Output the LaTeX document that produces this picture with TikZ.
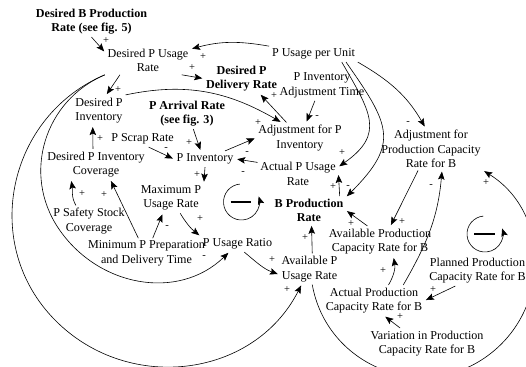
\documentclass[tikz,border=0pt]{standalone}
\usepackage{fontspec}
\setmainfont{Liberation Serif}
\usepackage{tikz}
\usetikzlibrary{arrows.meta}

\begin{document}
\begin{tikzpicture}[x=1bp,y=1bp,shorten >=1pt,line width=0.6bp,>={Stealth[length=8bp,width=6.5bp,inset=1.5bp]}]
	\def \rad{18}
	\tikzstyle{v-node}=[align=center,inner sep=2.5bp,font=\fontsize{12.1bp}{14.5bp}\selectfont]
	\tikzstyle{b-node}=[v-node,font=\fontsize{12.1bp}{14.5bp}\selectfont\bfseries]
	\tikzstyle{p-node}=[inner sep=0pt,font=\fontsize{10.5bp}{10.5bp}\selectfont]
	\tikzstyle{loop-bar}=[line width=1.7bp]
	\useasboundingbox (0,0) rectangle (526,366);

	% variables
	\node[b-node] 	(dbpr)	at (91.5,344.5)	{Desired B Production\\Rate (see fig. 5)};
	\node[v-node] 	(dpur)	at (148,305.5)	{Desired P Usage\\Rate};
	\node[v-node] 	(pupu)	at (313.5,312)	{P Usage per Unit};
	\node[b-node] 	(dpdr)	at (241.5,287.5)	{Desired P\\Delivery Rate};
	\node[v-node] 	(piat)	at (322,280.5)	{P Inventory\\Adjustment Time};
	\node[v-node] 	(dpi)	at (99,255.5)	{Desired P\\Inventory};
	\node[b-node] 	(par)	at (187,252.5)	{P Arrival Rate\\(see fig. 3)};
	\node[v-node] 	(afpi)	at (300,228)	{Adjustment for P\\Inventory};
	\node[v-node] 	(psr)	at (142.5,227)	{P Scrap Rate};
	\node[v-node] 	(dpic)	at (96,201.5)	{Desired P Inventory\\Coverage};
	\node[v-node] 	(pinv)	at (205,207)	{P Inventory};
	\node[v-node] 	(apur)	at (298,192)	{Actual P Usage\\Rate};
	\node[v-node] 	(afpcr)	at (431,217)	{Adjustment for\\Production Capacity\\Rate for B};
	\node[v-node] 	(mpur)	at (171,168)	{Maximum P\\Usage Rate};
	\node[b-node] 	(bpr)	at (309,155.5)	{B Production\\Rate};
	\node[v-node] 	(pssc)	at (89,145)	{P Safety Stock\\Coverage};
	\node[v-node] 	(mppdt)	at (146.5,112.5)	{Minimum P Preparation\\and Delivery Time};
	\node[v-node] 	(pur)	at (237.5,122)	{P Usage Ratio};
	\node[v-node] 	(apcr)	at (380,124.5)	{Available Production\\Capacity Rate for B};
	\node[v-node] 	(apur2)	at (309.5,97)	{Available P\\Usage Rate};
	\node[v-node] 	(ppcr)	at (477.5,95.5)	{Planned Production\\Capacity Rate for B};
	\node[v-node] 	(acpcr)	at (374,65.5)	{Actual Production\\Capacity Rate for B};
	\node[v-node] 	(vpcr)	at (427,22.5)	{Variation in Production\\Capacity Rate for B};

	% way points of the long arcs
	\coordinate (wpk) at (58.5,137.6);
	\coordinate (wpl) at (51.8,49.3);
	\coordinate (wpf) at (484,7.7);

	% links
	\path[->]
		(dbpr.south)	edge	(dpur.169)
		(pupu.170)	edge[out=170,in=15]	(dpur.15)
		(dpur.-23)	edge	(dpdr.west)
		(dpur.207)	edge	(dpi.65)
		(dpi.north east)	edge[out=12,in=150]	(afpi.140)
		(afpi.131)	edge	(dpdr.-40)
		(piat.245)	edge	(afpi.68)
		(pupu.-16)	edge[out=-60,in=35,looseness=1.4]	(apur.10)
		(pupu.-14)	edge[out=-55,in=45,looseness=1.45]	(bpr.20)
		(pupu.south east)	edge[out=-30,in=120]	(afpcr.105)
		%
		(dpic.101)	edge	(dpi.248)
		(pssc.130)	edge[out=120,in=-80]	(dpic.212)
		(mppdt.118)	edge	(dpic.-47)
		(mppdt.68)	edge	(mpur.242)
		(mpur.-59)	edge[bend right=10]	(pur.north west)
		(psr.-53)	edge	(pinv.west)
		(par.-68)	edge	(pinv.118)
		(pinv.22)	edge	(afpi.west)
		(apur.164)	edge	(pinv.east)
		(pinv.south)	edge	(mpur.north east)
		(bpr.25)	edge	(apur.east)
		(pur.-50)	edge[out=-40,in=160]	(apur2.190)
		(apur2.80)	edge	(bpr.-80)
		%
		(apcr.129)	edge	(bpr.east)
		(afpcr.239)	edge	(apcr.56)
		(acpcr.47)	edge[bend right=20]	(apcr.-49)
		(acpcr.28)	edge[out=60,in=-95]	(afpcr.-63)
		(ppcr.215)	edge	(acpcr.east)
		(vpcr.150)	edge	(acpcr.-56);

	% long arcs
	\draw[->] (dpur.south west) to[out=203,in=124,looseness=1.05] (wpk) to[out=304,in=224,looseness=1.05] (pur);
	\draw[->] (dpur.south west) to[out=203,in=133,looseness=1.08] (wpl) to[out=313,in=243,looseness=1.08] (apur2);
	\draw[->] (apur2) to[out=-80,in=214,looseness=1.1] (wpf) to[out=34,in=328,looseness=1.1] (afpcr.south east);

	% polarities
	\node[p-node] (pol1) at (106,325) {+};
	\node[p-node] (pol2) at (203,309) {+};
	\node[p-node] (pol3) at (192,298) {+};
	\node[p-node] (pol4) at (118,276) {+};
	\node[p-node] (pol5) at (258,243) {+};
	\node[p-node] (pol6) at (274,270) {+};
	\node[p-node] (pol7) at (317,249) {-};
	\node[p-node] (pol8) at (342,213) {+};
	\node[p-node] (pol9) at (348,179) {-};
	\node[p-node] (pol10) at (408,243) {-};
	\node[p-node] (pol11) at (204,109) {-};
	\node[p-node] (pol12) at (287,76) {+};
	\node[p-node] (pol13) at (100,227) {+};
	\node[p-node] (pol14) at (82,172) {+};
	\node[p-node] (pol15) at (104,171) {+};
	\node[p-node] (pol16) at (167,139) {-};
	\node[p-node] (pol17) at (200,147) {+};
	\node[p-node] (pol18) at (166,217) {-};
	\node[p-node] (pol19) at (189,223) {+};
	\node[p-node] (pol20) at (247,213) {-};
	\node[p-node] (pol21) at (243,193) {-};
	\node[p-node] (pol22) at (197,191) {+};
	\node[p-node] (pol23) at (333,179) {+};
	\node[p-node] (pol24) at (272,106) {+};
	\node[p-node] (pol25) at (305,128) {+};
	\node[p-node] (pol26) at (351,142) {+};
	\node[p-node] (pol27) at (402,144) {+};
	\node[p-node] (pol28) at (383,95) {+};
	\node[p-node] (pol29) at (431,180) {-};
	\node[p-node] (pol30) at (433,76) {+};
	\node[p-node] (pol31) at (400,49) {+};
	\node[p-node] (pol32) at (486,183) {+};

	% loop markers
	\coordinate (loopa) at (241.5,164);
	\coordinate (loopb) at (485,132);
	\draw[->,shorten >=0pt] ([shift={(95:\rad)}]loopa) arc[start angle=95,end angle=378,radius=\rad];
	\draw[loop-bar] ([xshift=-11]loopa) -- ([xshift=11]loopa);
	\draw[->,shorten >=0pt] ([shift={(95:\rad)}]loopb) arc[start angle=95,end angle=378,radius=\rad];
	\draw[loop-bar] ([xshift=-11]loopb) -- ([xshift=11]loopb);
\end{tikzpicture}
\end{document}
